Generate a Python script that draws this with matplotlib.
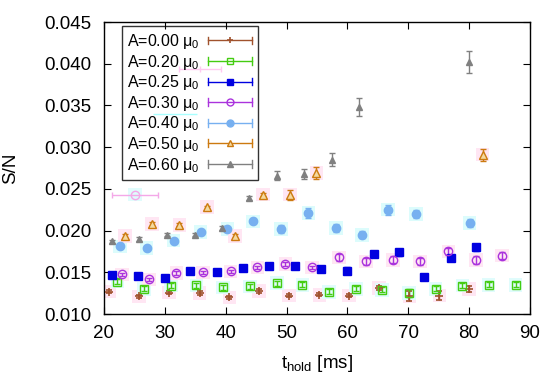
import matplotlib
matplotlib.use("Agg")
import matplotlib.pyplot as plt
from matplotlib.lines import Line2D
from matplotlib.legend_handler import HandlerBase

plt.rcParams['font.family'] = ['Liberation Sans', 'DejaVu Sans']
plt.rcParams['mathtext.default'] = 'regular'

# ---------------- data ----------------
x00 = [20.9, 25.8, 30.7, 35.7, 40.6, 45.5, 50.4, 55.4, 60.3, 65.2, 70.2, 75.1, 80.0]
y00 = [0.01267, 0.0121, 0.01255, 0.0125, 0.0120, 0.01276, 0.0122, 0.0123, 0.0122, 0.0131, 0.0121, 0.0122, 0.0130]
e00 = [0.0002, 0.0002, 0.0002, 0.0002, 0.0002, 0.0002, 0.0002, 0.0002, 0.0002, 0.0002, 0.0006, 0.0005, 0.0004]

x20 = [22.2, 26.6, 31.0, 35.2, 39.6, 44.0, 48.4, 52.6, 57.0, 61.4, 65.7, 70.1, 74.5, 78.9, 83.2, 87.65]
y20 = [0.01387, 0.0130, 0.0134, 0.01344, 0.0132, 0.0133, 0.0137, 0.0135, 0.01264, 0.0130, 0.0129, 0.0125, 0.0130, 0.0134, 0.0135, 0.0135]
e20 = [0.0003, 0.0003, 0.0003, 0.0003, 0.0003, 0.0003, 0.0003, 0.0003, 0.0003, 0.0003, 0.0003, 0.0005, 0.0003, 0.0003, 0.0003, 0.0003]

x25 = [21.4, 25.6, 30.0, 34.2, 38.5, 42.8, 47.2, 51.4, 55.65, 60.0, 64.3, 68.5, 72.6, 77.0, 81.2]
y25 = [0.01467, 0.0146, 0.01435, 0.0152, 0.0150, 0.0155, 0.0157, 0.0157, 0.0154, 0.0152, 0.0172, 0.0174, 0.01447, 0.0167, 0.0180]
e25 = [0.0002, 0.0002, 0.0002, 0.0002, 0.0002, 0.0002, 0.0002, 0.0002, 0.0004, 0.0004, 0.0004, 0.0004, 0.0003, 0.0004, 0.0004]

x30 = [22.96, 27.4, 31.9, 36.3, 40.8, 45.2, 49.8, 54.2, 58.65, 63.05, 67.5, 71.9, 76.6, 81.1, 85.4]
y30 = [0.01476, 0.01416, 0.0149, 0.0150, 0.0151, 0.0156, 0.0160, 0.0156, 0.0168, 0.0163, 0.0165, 0.0163, 0.0175, 0.0165, 0.0170]
e30 = [0.0002, 0.0002, 0.0002, 0.0002, 0.0002, 0.0002, 0.0002, 0.0002, 0.0004, 0.0004, 0.0004, 0.0004, 0.0004, 0.0005, 0.0004]

x40 = [22.6, 27.0, 31.45, 35.9, 40.3, 44.5, 49.1, 53.6, 58.1, 62.4, 66.7, 71.3, 80.1]
y40 = [0.0181, 0.0179, 0.0188, 0.0198, 0.0202, 0.0211, 0.0202, 0.0221, 0.0203, 0.0195, 0.0225, 0.0220, 0.0209]
e40 = [0.0002, 0.0002, 0.0002, 0.0002, 0.0002, 0.0002, 0.0005, 0.0006, 0.0005, 0.0004, 0.0006, 0.0005, 0.0005]

x50 = [23.45, 27.9, 32.4, 36.9, 41.5, 46.1, 50.6, 54.9, 82.2]
y50 = [0.01935, 0.0208, 0.0207, 0.0228, 0.01935, 0.0243, 0.0243, 0.0269, 0.0291]
e50 = [0.0002, 0.0002, 0.0002, 0.0002, 0.0002, 0.0002, 0.0006, 0.0007, 0.0007]

x60 = [21.3, 25.8, 30.3, 35.0, 39.4, 43.9, 48.4, 52.9, 57.5, 61.9, 80.0]
y60 = [0.0187, 0.0190, 0.0195, 0.0195, 0.0203, 0.0239, 0.0266, 0.0268, 0.0285, 0.0348, 0.0402]
e60 = [0.0002, 0.0002, 0.0002, 0.0002, 0.0002, 0.0002, 0.0005, 0.0006, 0.0008, 0.0011, 0.0013]

labels = ['A=0.00 μ$_0$', 'A=0.20 μ$_0$', 'A=0.25 μ$_0$', 'A=0.30 μ$_0$',
          'A=0.40 μ$_0$', 'A=0.50 μ$_0$', 'A=0.60 μ$_0$']

xticks = [20, 30, 40, 50, 60, 70, 80, 90]
yticks = [0.010, 0.015, 0.020, 0.025, 0.030, 0.035, 0.040, 0.045]
ytick_labels = ['0.010', '0.015', '0.020', '0.025', '0.030', '0.035', '0.040', '0.045']

# stray horizontal-error artefacts visible in the picture
art_x = [25.1, 35.8, 31.7]
art_y = [0.0243, 0.0394, 0.0340]
art_xe = [3.7, 3.5, 3.6]

# ---------------- styles ----------------
series = [
    (x00, y00, e00, dict(color='#a0522d', marker='+', ms=6, mew=1.2, mfc='#a0522d'), '#ffe6f3'),
    (x20, y20, e20, dict(color='#44cc11', marker='s', ms=6, mew=1.0, mfc='none'), '#e0fcfc'),
    (x25, y25, e25, dict(color='#0000e0', marker='s', ms=6, mew=1.0, mfc='#0000e0'), None),
    (x30, y30, e30, dict(color='#aa33dd', marker='o', ms=6, mew=1.0, mfc='none'), '#ffe6f3'),
    (x40, y40, e40, dict(color='#77b0f0', marker='o', ms=6, mew=1.0, mfc='#77b0f0'), '#dcfcfc'),
    (x50, y50, e50, dict(color='#cc7a10', marker='^', ms=6, mew=1.0, mfc='#f4d9a0'), '#ffe6f3'),
    (x60, y60, e60, dict(color='#808080', marker='^', ms=5, mew=1.0, mfc='#808080'), None),
]


class HBarHandler(HandlerBase):
    """Legend sample: horizontal error bar with caps and a centred marker."""
    def create_artists(self, legend, orig_handle, xdescent, ydescent,
                       width, height, fontsize, trans):
        c = orig_handle.get_color()
        y = height / 2.0 - ydescent
        x0, x1 = -xdescent, -xdescent + width
        cap = 2.8
        arts = [Line2D([x0, x1], [y, y], color=c, lw=1.0),
                Line2D([x0, x0], [y - cap, y + cap], color=c, lw=1.0),
                Line2D([x1, x1], [y - cap, y + cap], color=c, lw=1.0),
                Line2D([(x0 + x1) / 2], [y], marker=orig_handle.get_marker(),
                       ms=orig_handle.get_markersize(), mfc=orig_handle.get_markerfacecolor(),
                       mec=c, mew=orig_handle.get_markeredgewidth(), ls='none')]
        for a in arts:
            a.set_transform(trans)
        return arts


fig = plt.figure(figsize=(5.5, 3.89), dpi=100)
ax = fig.add_axes([0.189, 0.1928, 0.7746, 0.7506])

handles = []
for (xs, ys, es, st, shade), lab in zip(series, labels):
    if shade is not None:
        ax.scatter(xs, ys, marker='s', s=95, color=shade, edgecolors='none', zorder=1)
    ax.errorbar(xs, ys, yerr=es, fmt=st['marker'], color=st['color'], ms=st['ms'],
                mew=st['mew'], mfc=st['mfc'], mec=st['color'], ecolor=st['color'],
                elinewidth=1.0, capsize=2.5, capthick=1.0, zorder=3)
    handles.append(Line2D([], [], color=st['color'], marker=st['marker'], ms=st['ms'] - 1,
                          mfc=st['mfc'], mew=st['mew'], label=lab))

# artefacts
ax.scatter(art_x[:1], art_y[:1], marker='s', s=95, color='#e0fcfc', edgecolors='none', zorder=1)
ax.errorbar(art_x[0], art_y[0], xerr=art_xe[0], fmt='o', ms=6, mfc='none', color='#f4a8e8',
            mec='#f4a8e8', elinewidth=1.0, capsize=2.5, zorder=2)
ax.errorbar(art_x[1], art_y[1], xerr=art_xe[1], fmt='|', ms=4, color='#ffc8f0',
            elinewidth=1.0, capsize=2.0, zorder=2)
ax.errorbar(art_x[2], art_y[2], xerr=art_xe[2], fmt='none', color='#a8ffff',
            elinewidth=1.0, capsize=0, zorder=2)

ax.set_xlim(20, 90)
ax.set_ylim(0.010, 0.045)
ax.set_xticks(xticks)
ax.set_yticks(yticks)
ax.set_yticklabels(ytick_labels)
ax.tick_params(direction='in', top=True, right=True, length=5, width=0.8,
               labelsize=13.5, colors='black')
ax.tick_params(axis='y', pad=9.0)
ax.tick_params(axis='x', pad=8)
for sp in ax.spines.values():
    sp.set_linewidth(1.0)

ax.set_xlabel('t$_{hold}$ [ms]', fontsize=13.5, labelpad=8)
ax.set_ylabel('S/N', fontsize=13.5, labelpad=18)

leg = ax.legend(handles=handles, handler_map={Line2D: HBarHandler()},
                loc='upper left', bbox_to_anchor=(0.042, 0.985), borderaxespad=0,
                markerfirst=False, fontsize=11.5, handlelength=2.75, handletextpad=0.5,
                labelspacing=0.1, fancybox=False, facecolor='none', edgecolor='black',
                borderpad=0.35)
leg.get_frame().set_linewidth(1.0)

fig.savefig('out.png', dpi=100)
